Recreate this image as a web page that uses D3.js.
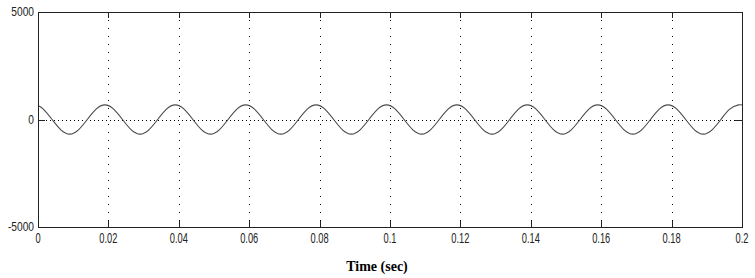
<!DOCTYPE html>
<html>
<head>
<meta charset="utf-8">
<script src="https://cdn.jsdelivr.net/npm/d3@7"></script>
<style>
  html, body { margin: 0; padding: 0; background: #fff; }
  svg { display: block; }
</style>
</head>
<body>
<div class="scope"></div>
<script>

// ticks of the axes
var xTicks = [0, 0.02, 0.04, 0.06, 0.08, 0.1, 0.12, 0.14, 0.16, 0.18, 0.2];
var xTickLabels = ["0", "0.02", "0.04", "0.06", "0.08", "0.1", "0.12", "0.14", "0.16", "0.18", "0.2"];
var yTicks = [-5000, 0, 5000];
var yTickLabels = ["-5000", "0", "5000"];

// signal (sec, value)
var times = [0, 0.0015, 0.004, 0.0065, 0.009, 0.0115, 0.014, 0.0165, 0.019,
	0.0215, 0.024, 0.0265, 0.029, 0.0315, 0.034, 0.0365, 0.039,
	0.0415, 0.044, 0.0465, 0.049, 0.0515, 0.054, 0.0565, 0.059,
	0.0615, 0.064, 0.0665, 0.069, 0.0715, 0.074, 0.0765, 0.079,
	0.0815, 0.084, 0.0865, 0.089, 0.0915, 0.094, 0.0965, 0.099,
	0.1015, 0.104, 0.1065, 0.109, 0.1115, 0.114, 0.1165, 0.119,
	0.1215, 0.124, 0.1265, 0.129, 0.1315, 0.134, 0.1365, 0.139,
	0.1415, 0.144, 0.1465, 0.149, 0.1515, 0.154, 0.1565, 0.159,
	0.1615, 0.164, 0.1665, 0.169, 0.1715, 0.174, 0.1765, 0.179,
	0.1815, 0.184, 0.1865, 0.189, 0.1915, 0.194, 0.1965, 0.199, 0.2];
var values = [650, 480, 0, -480, -680, -480, 0, 480, 680,
	480, 0, -480, -680, -480, 0, 480, 680,
	480, 0, -480, -680, -480, 0, 480, 680,
	480, 0, -480, -680, -480, 0, 480, 680,
	480, 0, -480, -680, -480, 0, 480, 680,
	480, 0, -480, -680, -480, 0, 480, 680,
	480, 0, -480, -680, -480, 0, 480, 680,
	480, 0, -480, -680, -480, 0, 480, 680,
	480, 0, -480, -680, -480, 0, 480, 680,
	480, 0, -480, -680, -480, 0, 480, 680, 670];

var xLabel = "Time (sec)";

var data = times.map((t, i) => ({ t: t, v: values[i] }));

// plot box
var margin = {top: 12, right: 13, bottom: 51, left: 38},
    totalW = 755, totalH = 278,
    width = totalW - margin.left - margin.right,
    height = totalH - margin.top - margin.bottom;

var svg = d3.select(".scope")
	.append("svg")
	.attr("width", totalW)
	.attr("height", totalH);

var g = svg.append("g")
	.attr("transform", "translate(" + margin.left + "," + margin.top + ")");

var x = d3.scaleLinear().domain([0, 0.2]).range([0, width]);
var y = d3.scaleLinear().domain([-5000, 5000]).range([height, 0]);

/* dotted grid */
g.append("g")
	.selectAll("line")
	.data(xTicks.slice(1, -1))
	.join("line")
	.attr("x1", d => Math.round(x(d)) + 0.5)
	.attr("x2", d => Math.round(x(d)) + 0.5)
	.attr("y1", 0)
	.attr("y2", height)
	.attr("stroke", "#000")
	.attr("stroke-width", 1)
	.attr("stroke-dasharray", "1,7");

g.append("line")
	.attr("x1", 0)
	.attr("x2", width)
	.attr("y1", Math.round(y(0)) + 0.5)
	.attr("y2", Math.round(y(0)) + 0.5)
	.attr("stroke", "#000")
	.attr("stroke-width", 1)
	.attr("stroke-dasharray", "1,3");

/* the signal */
var line = d3.line()
	.x(d => x(d.t))
	.y(d => y(d.v))
	.curve(d3.curveNatural);

g.append("path")
	.datum(data)
	.attr("fill", "none")
	.attr("stroke", "#4a4a4a")
	.attr("stroke-width", 1.1)
	.attr("d", line);

/* box */
g.append("rect")
	.attr("x", 0.5)
	.attr("y", 0.5)
	.attr("width", width)
	.attr("height", height)
	.attr("fill", "none")
	.attr("stroke", "#222")
	.attr("stroke-width", 1);

// inward ticks, top and bottom
var tickLen = 6;
g.append("g")
	.selectAll("path")
	.data(xTicks.slice(1, -1))
	.join("path")
	.attr("d", d => {
		var px = Math.round(x(d)) + 0.5;
		return "M" + px + "," + height + "v" + (-tickLen) + "M" + px + ",0v" + tickLen;
	})
	.attr("stroke", "#222");

g.append("path")
	.attr("d", "M0," + (Math.round(y(0)) + 0.5) + "h" + (tickLen + 1) +
		"M" + width + "," + (Math.round(y(0)) + 0.5) + "h" + (-tickLen - 1))
	.attr("stroke", "#222");

/* tick labels (the font in the picture is a tall, narrow one) */
g.append("g")
	.selectAll("text")
	.data(xTicks)
	.join("text")
	.attr("transform", d => "translate(" + x(d) + "," + (height + 16) + ") scale(0.62,1)")
	.attr("text-anchor", "middle")
	.style("font-family", "Arial, 'Liberation Sans', sans-serif")
	.style("font-size", "15px")
	.style("fill", "#222")
	.text((d, i) => xTickLabels[i]);

g.append("g")
	.selectAll("text")
	.data(yTicks)
	.join("text")
	.attr("transform", d => "translate(-4," + (y(d) + 4) + ") scale(0.85,1)")
	.attr("text-anchor", "end")
	.style("font-family", "Arial, 'Liberation Sans', sans-serif")
	.style("font-size", "12px")
	.style("fill", "#222")
	.text((d, i) => yTickLabels[i]);

// axis title
svg.append("text")
	.attr("x", 377)
	.attr("y", 271)
	.attr("text-anchor", "middle")
	.style("font-family", "'Times New Roman', 'Liberation Serif', serif")
	.style("font-weight", "bold")
	.style("font-size", "14px")
	.style("fill", "#000")
	.text(xLabel);

</script>
</body>
</html>
